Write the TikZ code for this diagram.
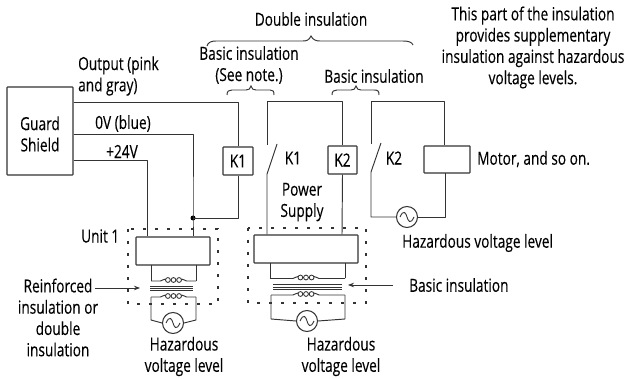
\documentclass[tikz,border=0pt]{standalone}
\usepackage{fontspec}
\setmainfont[FakeStretch=0.76,FakeBold=0.2]{Open Sans}
\usetikzlibrary{arrows.meta,calc}
\definecolor{ink}{HTML}{333333}
\tikzset{
 wire/.style={draw=ink,line width=0.95pt,line join=round},
 boxx/.style={draw=ink,line width=1.05pt,rectangle,inner sep=0pt,rounded corners=0.5pt},
 lbl/.style={text=black,inner sep=0pt,font=\fontsize{18}{21.3}\selectfont,align=center},
 src/.style={draw=ink,line width=1.05pt,circle,minimum size=21pt,inner sep=0pt,fill=white},
 dash box/.style={draw=ink,line width=1.05pt,dash pattern=on 3pt off 9pt},
 brace/.style={draw=ink,line width=0.95pt},
 sense/.style={-{Stealth[length=6pt,width=4.5pt]},draw=ink,line width=0.75pt},
 dotj/.style={circle,fill=black,minimum size=5pt,inner sep=0pt}
}
\newcommand{\coilat}[4]{% xl xr xc y
 \draw[wire] (#1,#4) -- (#3-13,#4) .. controls (#3-11,#4) and (#3-11,#4-2) .. (#3-8,#4-2);
 \draw[wire] (#3+8,#4-2) .. controls (#3+11,#4-2) and (#3+11,#4) .. (#3+13,#4) -- (#2,#4);
 \foreach \d in {-5.6,0,5.6} \draw[draw=ink,line width=0.85pt] (#3+\d,#4-1) circle (2.4pt);
}
\newcommand{\sinein}[1]{\draw[draw=ink,line width=0.9pt] ($(#1.center)+(-7,0)$) .. controls ($(#1.center)+(-3.5,-8)$) and ($(#1.center)+(-1,-4)$) .. (#1.center) .. controls ($(#1.center)+(1,4)$) and ($(#1.center)+(3.5,8)$) .. ($(#1.center)+(7,0)$);}
\begin{document}
\begin{tikzpicture}[x=1pt,y=-1pt]
\useasboundingbox[fill=white] (0,0) rectangle (626,379);
% boxes
\node[boxx,minimum width=66pt,minimum height=88pt] (guard) at (40,131) {};
\node[boxx,minimum width=30pt,minimum height=28pt] (k1) at (238,161) {\fontsize{18}{18}\selectfont K1};
\node[boxx,minimum width=29pt,minimum height=28pt] (k2) at (342.5,160) {\fontsize{18}{18}\selectfont K2};
\node[boxx,minimum width=46pt,minimum height=27pt] (motor) at (447,159.5) {};
\node[boxx,minimum width=74pt,minimum height=28pt] (unit) at (173,251) {};
\node[boxx,minimum width=104pt,minimum height=28pt] (ps) at (306,249) {};
\node[src] (s1) at (173,323) {};
\node[src] (s2) at (307,321) {};
\node[src] (s3) at (407,217) {};
\sinein{s1}\sinein{s2}\sinein{s3}
% dashed frames
\draw[dash box] (128,229) rectangle (218,304);
\draw[dash box] (248,228) rectangle (366,303);
% coordinates
\coordinate (outc) at (238,102);
\coordinate (zeroc) at (193,134);
\coordinate (posc) at (147,160);
\node[dotj] (junc) at (193,218) {};
\coordinate (k1c) at (238,218);
\coordinate (sw1t) at (267,145);
\coordinate (sw1b) at (267,174);
\coordinate (sw1e) at (277,144);
\coordinate (sw1c) at (267,101);
\coordinate (k2c) at (342,101);
\coordinate (sw2t) at (371,144);
\coordinate (sw2b) at (371,172);
\coordinate (sw2e) at (381,143);
\coordinate (sw2c) at (371,101);
\coordinate (moc) at (444,101);
% wires
\draw[wire] (guard.east |- outc) -- (outc) -- (k1.north);
\draw[wire] (k1.south) -- (k1c) -- (junc.center);
\draw[wire] (guard.east |- zeroc) -- (zeroc) -- (junc.center) -- (junc |- unit.north);
\draw[wire] (guard.east |- posc) -- (posc) -- (posc |- unit.north);
\draw[wire] (sw1t) -- (sw1c) -- (k2c) -- (k2c |- k2.north);
\draw[wire] (sw1e) -- (sw1b) -- (sw1b |- ps.north);
\draw[wire] (k2.south) -- (k2c |- ps.north);
\draw[wire] (sw2t) -- (sw2c) -- (moc) -- (moc |- motor.north);
\draw[wire] (sw2e) -- (sw2b) -- (371,217) -- (s3.west);
\draw[wire] (s3.east) -- (445,217) -- (445,173);
% transformer 1
\draw[wire] (151,265) -- (151,281);
\draw[wire] (196,265) -- (196,281);
\coilat{151}{196}{173.5}{281}
\draw[wire] (150,286) -- (193,286) (150,288.2) -- (193,288.2) (150,290.4) -- (193,290.4);
\coilat{151}{196}{173.5}{297}
\draw[wire] (151,297) -- (151,320) -- (s1.west);
\draw[wire] (196,297) -- (196,320) -- (s1.east);
% transformer 2
\draw[wire] (270,263) -- (270,278);
\draw[wire] (345,263) -- (345,278);
\coilat{270}{345}{306}{278.5}
\draw[wire] (273,284.5) -- (342,284.5) (273,287) -- (342,287) (273,289.5) -- (342,289.5);
\coilat{271}{345}{306}{295}
\draw[wire] (271,295) -- (271,319) -- (s2.west);
\draw[wire] (345,295) -- (345,319) -- (s2.east);
% braces
\draw[brace] (207,46) .. controls (208,42) and (212,41) .. (216,41) -- (303,41) .. controls (307,41) and (309,40) .. (311,36) .. controls (313,40) and (316,41) .. (320,41) -- (403,41) .. controls (408,41) and (412,42) .. (413,45);
\draw[brace] (227,95) .. controls (227,91) and (229,90) .. (232,90) -- (246,90) .. controls (249,90) and (250,89) .. (251,86) .. controls (252,89) and (253,90) .. (256,90) -- (270,90) .. controls (273,90) and (274,91) .. (274,95);
\draw[brace] (332,95) .. controls (332,91) and (334,90) .. (337,90) -- (351,90) .. controls (354,90) and (355,89) .. (356,86) .. controls (357,89) and (358,90) .. (361,90) -- (374,90) .. controls (378,90) and (379,91) .. (379,95);
% text
\node[lbl] (t1) at (311,19) {Double insulation};
\node[lbl] (t2) at (249,65) {Basic insulation\\(See note.)};
\node[lbl] (t3) at (374,76) {Basic insulation};
\node[lbl] (t4) at (533,47.5) {This part of the insulation\\provides supplementary\\insulation against hazardous\\voltage levels.};
\node[lbl,align=left,anchor=west] (t5) at (78,76) {Output (pink\\and gray)};
\node[lbl,anchor=west] (t6) at (95,123.5) {0V (blue)};
\node[lbl,anchor=west] (t7) at (106,151.5) {+24V};
\node[lbl] (t8) at (40,134) {Guard\\Shield};
\node[lbl] (t9) at (293,158) {K1};
\node[lbl] (t10) at (302,202) {Power\\Supply};
\node[lbl] (t11) at (394,158) {K2};
\node[lbl,anchor=west] (t12) at (477,159) {Motor, and so on.};
\node[lbl,anchor=west] (t13) at (402,243) {Hazardous voltage level};
\node[lbl,anchor=west] (t14) at (409,285) {Basic insulation};
\node[lbl,anchor=west] (t15) at (81,236) {Unit 1};
\node[lbl] (t16) at (58,317.5) {Reinforced\\insulation or\\double\\insulation};
\node[lbl] (t17) at (184,356.5) {Hazardous\\voltage level};
\node[lbl] (t18) at (341,356.5) {Hazardous\\voltage level};
% arrows
\draw[sense] (95,288) -- (140,288);
\draw[sense] (393,285) -- (348,285);
\end{tikzpicture}
\end{document}
